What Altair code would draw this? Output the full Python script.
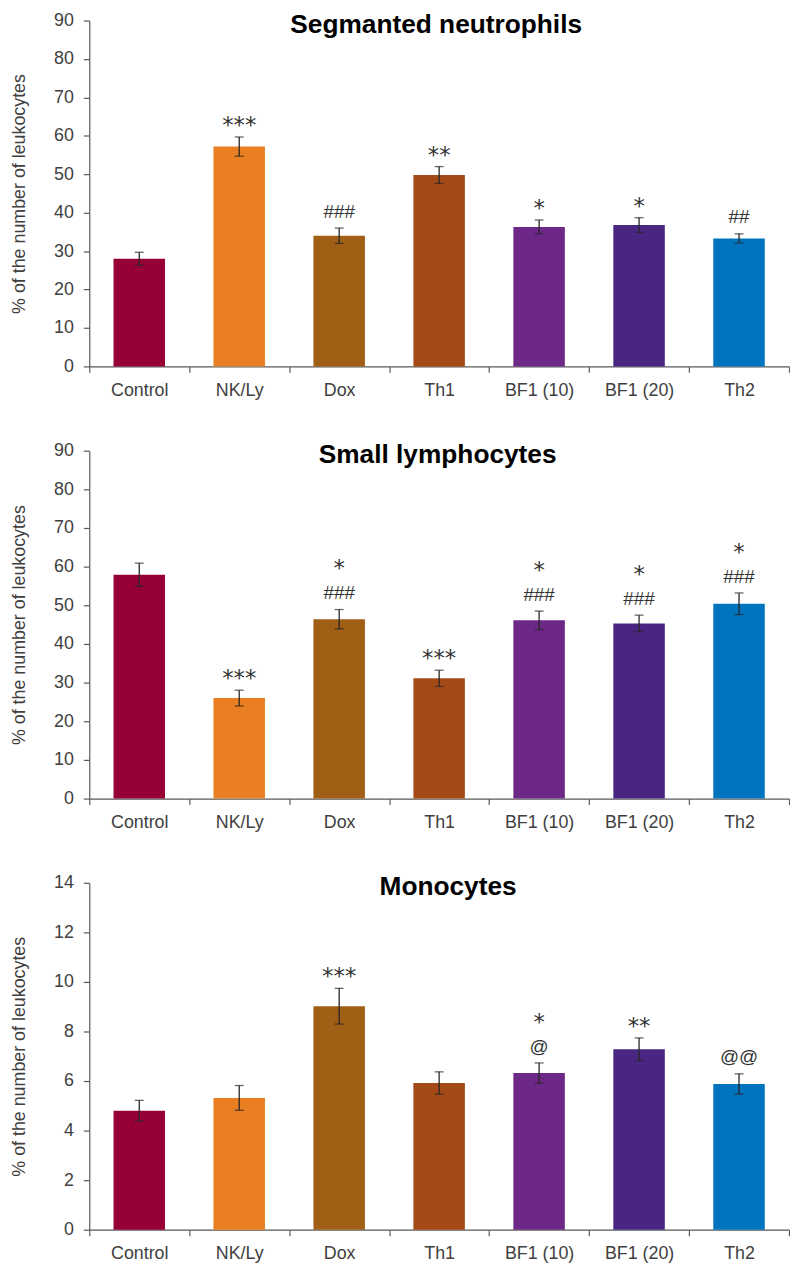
import altair as alt
import pandas as pd

categories = ["Control", "NK/Ly", "Dox", "Th1", "BF1 (10)", "BF1 (20)", "Th2"]
colors = ["#960036", "#E97E22", "#A05F14", "#A34A16", "#6C2787", "#4A2683", "#0074BF"]

neut_mean = [28.0, 57.2, 34.0, 49.8, 36.3, 36.8, 33.3]
neut_err = [1.7, 2.5, 2.0, 2.2, 1.8, 1.9, 1.2]
neut_sig = ["", "***", "###", "**", "*", "*", "##"]

lymph_mean = [57.9, 26.0, 46.4, 31.1, 46.1, 45.3, 50.4]
lymph_err = [3.0, 2.05, 2.5, 2.1, 2.4, 2.15, 2.8]
lymph_sig = ["", "***", "*\n###", "***", "*\n###", "*\n###", "*\n###"]

mono_mean = [4.8, 5.32, 9.02, 5.92, 6.32, 7.28, 5.88]
mono_err = [0.42, 0.5, 0.72, 0.45, 0.41, 0.46, 0.41]
mono_sig = ["", "", "***", "", "*\n@", "**", "@@"]

Y_TITLE = "% of the number of leukocytes"
FONT = "Liberation Sans"
INK = "#262626"


def panel(title, means, errs, sigs, ymax, ystep, height, title_x):
    df = pd.DataFrame({"group": categories, "mean": means, "err": errs, "sig": sigs})
    df["lo"] = df["mean"] - df["err"]
    df["hi"] = df["mean"] + df["err"]
    parts = df["sig"].str.split("\n")
    df["bottom"] = parts.str[-1]
    df["top"] = parts.apply(lambda p: p[0] if len(p) > 1 else "")
    df["star"] = df["bottom"].str.contains(r"\*", regex=True)

    x = alt.X(
        "group:N",
        sort=categories,
        title=None,
        scale=alt.Scale(paddingInner=0, paddingOuter=0),
        axis=alt.Axis(tickBand="extent", labelAngle=0, labelPadding=9),
    )
    yscale = alt.Scale(domain=[0, ymax], nice=False, zero=True)
    yaxis = alt.Axis(values=list(range(0, ymax + 1, ystep)), grid=False,
                     labelPadding=10, titlePadding=25)

    def Y(field):
        return alt.Y(field, scale=yscale, axis=yaxis, title=Y_TITLE)

    base = alt.Chart(df)
    bars = base.mark_bar(width=alt.RelativeBandSize(0.515)).encode(
        x=x,
        y=Y("mean:Q"),
        color=alt.Color("group:N", scale=alt.Scale(domain=categories, range=colors), legend=None),
    )
    rule = base.mark_rule(color=INK, strokeWidth=1.3).encode(x=x, y=Y("lo:Q"), y2="hi:Q")
    cap_hi = base.mark_tick(orient="horizontal", size=9, thickness=1.3, color=INK).encode(
        x=x, y=Y("hi:Q"))
    cap_lo = base.mark_tick(orient="horizontal", size=9, thickness=1.3, color=INK).encode(
        x=x, y=Y("lo:Q"))

    sig_sym = base.transform_filter("!datum.star").mark_text(
        baseline="alphabetic", dy=-10.5, fontSize=19, font=FONT, color="#333333",
    ).encode(x=x, y=Y("hi:Q"), text="bottom:N")
    sig_star = base.transform_filter("datum.star").mark_text(
        baseline="alphabetic", dy=-4, fontSize=23, font="DejaVu Sans", color="#333333",
    ).encode(x=x, y=Y("hi:Q"), text="bottom:N")
    sig_top = base.mark_text(
        baseline="alphabetic", dy=-33.5, fontSize=23, font="DejaVu Sans", color="#333333",
    ).encode(x=x, y=Y("hi:Q"), text="top:N")

    ttl = alt.Chart(pd.DataFrame({"t": [title]})).mark_text(
        fontSize=26.5, fontWeight="bold", font=FONT, baseline="top",
        align="center", color="#000000",
    ).encode(x=alt.value(title_x), y=alt.value(-8.5), text="t:N")

    return alt.layer(bars, rule, cap_hi, cap_lo, sig_sym, sig_star, sig_top, ttl).properties(
        width=706, height=height)


p1 = panel("Segmanted neutrophils", neut_mean, neut_err, neut_sig, 90, 10, 349, 350)
p2 = panel("Small lymphocytes", lymph_mean, lymph_err, lymph_sig, 90, 10, 351, 351.5)
p3 = panel("Monocytes", mono_mean, mono_err, mono_sig, 14, 2, 350, 362)

chart = (
    alt.vconcat(p1, p2, p3, spacing=85, bounds="flush")
    .properties(padding={"left": 2, "top": -2, "right": 0, "bottom": 0})
    .configure_view(stroke=None)
    .configure_axis(
        domainColor="#595959",
        domainWidth=1.2,
        tickColor="#595959",
        tickWidth=1.2,
        tickSize=6,
        labelColor="#404040",
        labelFont=FONT,
        labelFontSize=18,
        titleFont=FONT,
        titleFontSize=18,
        titleFontWeight="normal",
        titleColor="#404040",
    )
)

chart.save("out.html", embed_options={"renderer": "svg", "actions": False})
